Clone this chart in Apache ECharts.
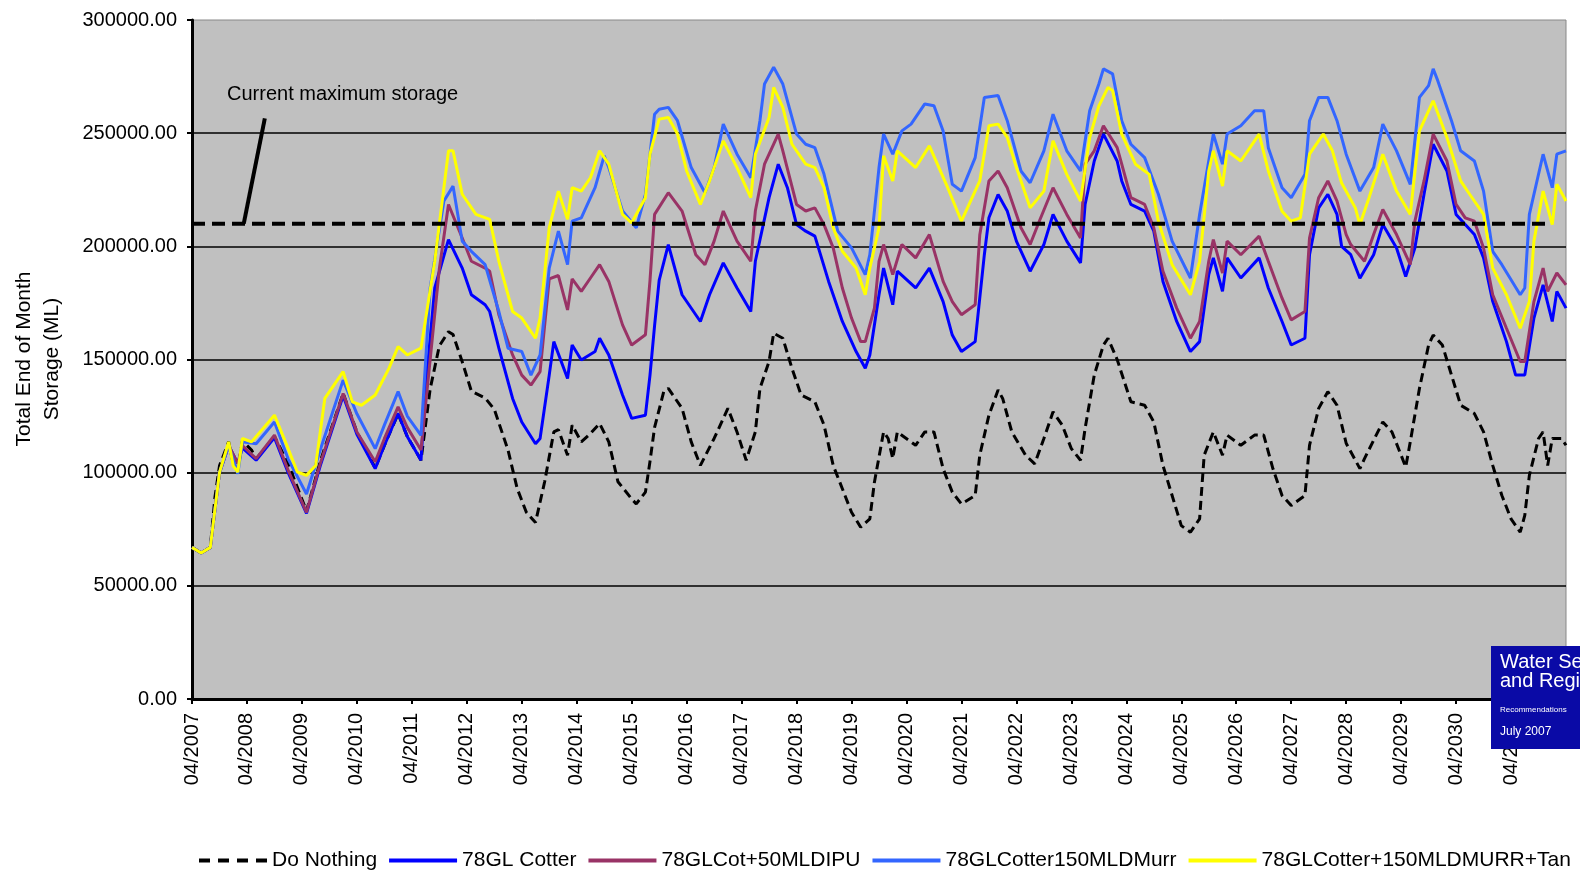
<!DOCTYPE html>
<html>
<head>
<meta charset="utf-8">
<script src="https://cdn.jsdelivr.net/npm/echarts/dist/echarts.min.js"></script>
<style>
  html, body { margin: 0; padding: 0; background: #ffffff; }
  #chart { width: 1580px; height: 872px; }
</style>
</head>
<body>
<div id="chart"></div>
<script>
// Month index 0 = 04/2007; values are total end-of-month storage in ML.
const startYear = 2007;
const lastMonth = 300;
const yTicks = [0, 50000, 100000, 150000, 200000, 250000, 300000];
const maxStorage = 210000;
const maxStorageEnd = 296;

const seriesNames = [
  'Do Nothing',
  '78GL Cotter',
  '78GLCot+50MLDIPU',
  '78GLCotter150MLDMurr',
  '78GLCotter+150MLDMURR+Tan'
];

const doNothing = [
  [0,67000],[2,64500],[4,67000],[5,89000],[6,103000],[8,113600],[9,104000],[10,101000],[11,114000],
  [13,110000],[14,106000],[18,116000],[21,104000],[25,83000],[28,105000],[33,135000],[36,118000],
  [40,102000],[42,112000],[45,126000],[47,116000],[50,105500],[52,137000],[54,156000],[56,162300],
  [57,161000],[59,149000],[61,136000],[64,133000],[66,128000],[69,110000],[71,93000],[73,82500],
  [75,78000],[77,96000],[79,118000],[80,119000],[82,107700],[83,121000],[85,113600],[87,117300],
  [89,121700],[91,113600],[93,96000],[96,88400],[97,86200],[99,91400],[100,105000],[101,120000],
  [103,135800],[104,137200],[107,128400],[109,113600],[111,103200],[114,115100],[117,128400],
  [119,118000],[121,105500],[123,118000],[124,137200],[126,149200],[127,161600],[129,159400],
  [131,146100],[133,134300],[136,131300],[138,121000],[140,103200],[142,92900],[144,82500],
  [146,75900],[148,79600],[149,95800],[151,118000],[152,115100],[153,106200],[154,118000],
  [158,112100],[160,118000],[162,118000],[164,101800],[166,91400],[168,86200],[171,89900],
  [172,107700],[174,125400],[176,136500],[177,132800],[179,118000],[182,107700],[184,103900],
  [186,115100],[188,126900],[190,121000],[192,110600],[194,105500],[195,119500],[197,143100],
  [199,156400],[200,159400],[202,150000],[205,131300],[208,129800],[210,122400],[212,103200],
  [214,89900],[216,76600],[218,73700],[220,79600],[221,107700],[223,118000],[225,107700],
  [226,116600],[229,112100],[232,116600],[234,116600],[236,101800],[238,89900],[240,85500],
  [243,89900],[244,112100],[246,128400],[248,135800],[250,129800],[252,113000],[255,101800],
  [256,106200],[260,122400],[262,118000],[264,107700],[265,102500],[266,113600],[268,137200],
  [270,156400],[271,160800],[273,156400],[275,143100],[277,129800],[280,126100],[282,118000],
  [284,103200],[286,89900],[288,79600],[290,73700],[291,81100],[292,98800],[294,115100],
  [295,118000],[296,103200],[297,115100],[299,115100],[300,112100]
];

const cotter78 = [
  [0,67000],[2,64500],[4,67000],[6,100000],[8,112000],[10,104000],[11,111000],[14,105500],
  [18,115500],[21,100000],[25,82000],[28,103000],[33,134000],[36,117000],[40,101800],[42,112000],
  [45,126200],[47,116000],[50,105500],[51,137200],[53,181600],[56,203000],[59,190400],[61,178600],
  [64,174200],[65,171200],[67,155000],[70,132800],[72,122400],[75,112800],[76,115100],[78,143100],
  [79,157900],[82,141600],[83,156400],[85,149800],[88,153500],[89,159400],[91,152000],[94,134300],
  [96,124000],[99,125400],[100,143100],[101,165000],[102,185000],[104,200800],[107,178600],
  [111,166800],[113,178600],[116,192700],[119,181600],[122,171200],[123,193400],[126,221500],
  [128,236300],[130,225900],[132,209600],[134,206700],[136,204500],[139,184500],[142,166800],
  [145,153500],[147,146100],[148,152000],[150,178600],[151,190400],[153,174200],[154,189000],
  [158,181600],[161,190400],[164,175600],[166,160800],[168,153500],[171,157900],[173,196300],
  [174,212600],[176,222900],[178,215600],[180,202300],[183,189000],[186,200800],[188,214100],
  [191,202300],[194,192700],[195,218500],[197,237700],[199,249600],[202,237700],[203,228900],
  [205,218500],[208,215600],[210,206700],[212,184500],[215,166800],[218,153500],[220,157900],
  [222,187500],[223,194900],[225,180100],[226,194900],[229,186000],[233,194900],[235,181600],
  [238,166800],[240,156400],[243,159400],[244,196300],[246,217000],[248,223000],[250,214100],
  [251,200000],[253,196300],[255,185900],[258,196300],[260,209600],[263,199300],[265,186700],
  [267,199300],[269,223000],[271,245100],[274,233300],[276,214100],[278,209600],[280,205200],
  [282,194900],[284,175700],[287,157900],[289,143100],[291,143100],[293,168300],[295,183000],
  [297,166800],[298,180100],[300,172700]
];

const cot50ipu = [
  [0,67000],[2,64500],[4,67000],[6,100000],[8,112000],[10,104000],[11,112000],[14,106200],
  [18,116600],[21,101000],[25,82500],[28,104000],[33,135000],[36,118000],[40,104800],[42,115000],
  [45,129100],[47,120000],[50,110000],[52,150000],[54,190000],[56,218500],[59,203700],[61,193400],
  [64,190400],[65,189000],[67,169800],[70,152000],[72,143100],[74,138700],[76,144600],[78,185600],
  [80,187100],[82,171900],[83,185600],[85,180100],[87,186000],[89,191900],[91,184500],[94,165300],
  [96,156400],[99,160900],[100,185000],[101,214100],[104,223700],[107,215600],[110,196300],
  [112,191900],[114,202300],[116,215600],[119,202300],[122,193400],[123,215600],[125,236300],
  [128,249600],[129,242200],[132,218500],[134,215600],[136,217000],[138,209600],[140,199300],
  [142,181600],[144,168300],[146,157900],[147,157900],[149,172700],[150,193400],[151,200800],
  [153,187500],[155,200800],[158,194900],[161,205200],[164,184500],[166,175600],[168,169800],
  [171,174200],[172,205000],[174,228900],[176,233300],[178,225900],[181,208200],[183,200800],
  [185,211100],[188,225900],[191,214100],[194,203700],[195,236300],[197,242200],[199,253300],
  [202,243600],[203,236300],[205,221500],[208,218500],[210,208200],[212,189000],[215,172700],
  [218,159400],[220,166800],[222,193400],[223,203000],[225,188200],[226,202300],[229,196300],
  [233,204500],[235,193400],[238,177100],[240,167500],[243,171200],[244,203700],[246,221500],
  [248,228900],[250,220000],[252,205200],[253,200800],[256,193400],[258,205200],[260,216300],
  [263,205200],[266,191900],[267,211100],[269,228900],[271,249600],[274,237700],[276,218500],
  [278,212600],[280,211100],[282,199300],[284,178600],[287,163800],[290,149100],[291,149100],
  [293,175600],[295,190400],[296,180100],[298,188200],[300,183000]
];

const cot150murr = [
  [0,67000],[2,64500],[4,67000],[6,100000],[8,112000],[10,99500],[11,113600],[14,112800],
  [18,122400],[21,106000],[25,90600],[28,110000],[33,140900],[36,126000],[40,110600],[42,121000],
  [45,135800],[47,125000],[50,116500],[52,181600],[55,220000],[57,226600],[59,202300],[61,197800],
  [64,191900],[67,171200],[69,155000],[72,153500],[74,143100],[76,152000],[78,190400],[80,206700],
  [82,191900],[83,211100],[85,212600],[88,225900],[90,240000],[91,234800],[94,215600],[97,208200],
  [99,223000],[101,258400],[102,260600],[104,261400],[106,255500],[109,234800],[112,223700],
  [114,234800],[116,254000],[119,240700],[122,230300],[124,255500],[125,271700],[127,279100],
  [129,271700],[132,249600],[134,245100],[136,243600],[138,231800],[141,206700],[144,199300],
  [147,187500],[148,196300],[150,234800],[151,249600],[153,240700],[155,251000],[157,254000],
  [160,262900],[162,262100],[164,251000],[166,227400],[168,224400],[171,239200],[173,265800],
  [176,266600],[178,255500],[181,233300],[183,228100],[186,242200],[188,258400],[191,242200],
  [194,233300],[196,259900],[198,271700],[199,278400],[201,276200],[203,255500],[205,245100],
  [208,239200],[211,223000],[214,202300],[218,186000],[220,214100],[223,249600],[225,236300],
  [226,249600],[229,253300],[232,259900],[234,259900],[235,243600],[238,225900],[240,221500],
  [243,231800],[244,255500],[246,265800],[248,265800],[250,255500],[252,240700],[255,224400],
  [258,234800],[260,254000],[263,242200],[266,227400],[268,265800],[270,271000],[271,278400],
  [272,273200],[275,255500],[277,242200],[280,237700],[282,224400],[284,197800],[286,191900],
  [290,178600],[291,181600],[292,214100],[295,240700],[297,225900],[298,240700],[300,242200]
];

const cot150murrTan = [
  [0,67000],[2,64500],[4,67000],[6,100000],[8,113600],[9,103000],[10,100300],[11,115100],
  [13,113600],[18,125400],[21,110600],[23,100300],[25,98800],[27,103200],[29,132800],[33,144600],
  [35,131300],[37,129800],[40,134300],[43,146100],[45,155700],[47,152000],[50,155000],[53,193400],
  [56,242200],[57,242200],[59,223000],[62,214100],[65,211900],[67,193400],[70,171200],[72,168300],
  [75,159400],[76,168300],[78,208200],[80,224400],[82,211900],[83,225900],[85,224400],[87,230300],
  [89,242200],[91,236300],[94,214100],[96,210400],[99,221500],[100,240700],[102,256200],
  [104,256900],[106,249600],[108,233300],[111,218500],[113,228900],[116,246600],[119,234800],
  [122,221500],[123,240700],[126,256900],[127,270200],[129,261400],[131,245100],[134,236300],
  [136,234800],[138,225900],[140,208200],[142,197800],[145,190400],[147,178600],[148,190400],
  [150,208200],[151,240000],[153,228900],[154,242200],[158,234800],[161,244400],[165,225900],
  [168,211100],[172,228900],[174,253300],[176,254000],[178,248100],[180,234800],[183,217000],
  [186,224400],[188,246600],[191,231800],[194,220000],[196,248100],[198,262000],[200,270200],
  [201,268800],[203,249600],[206,236300],[209,231800],[211,211100],[214,191900],[218,178600],
  [220,193400],[222,233300],[223,242200],[225,226600],[226,242200],[229,237700],[231,243600],
  [233,249600],[235,233300],[238,215500],[240,211100],[242,212600],[244,240700],[247,249600],
  [249,242200],[251,228000],[254,217000],[255,209600],[257,221500],[260,240700],[263,224400],
  [266,214100],[268,251000],[271,264300],[274,248100],[277,228900],[279,222900],[282,214100],
  [284,190400],[287,178600],[290,163800],[292,175600],[293,202300],[295,224400],[297,209600],
  [298,227400],[300,220000]
];

// Pointer from the caption down to the maximum-storage line
const pointerFrom = [11.3, maxStorage];
const pointerTo = [15.9, 256500];

const FONT = "'Liberation Sans', Arial, sans-serif";

// Legend keys: a dashed bar for the base case, plain bars for the others
const DASHED_KEY = 'path://M0 0h11v4h-11z M19 0h11v4h-11z M38 0h11v4h-11z M57 0h11v4h-11z';

const chart = echarts.init(document.getElementById('chart'), null, { renderer: 'canvas' });

function lineSeries(name, data, color, extra) {
  return Object.assign({
    name: name,
    type: 'line',
    data: data,
    symbol: 'none',
    showSymbol: false,
    silent: true,
    lineStyle: { color: color, width: 3 },
    itemStyle: { color: color }
  }, extra || {});
}

const option = {
  animation: false,
  backgroundColor: '#ffffff',
  textStyle: { fontFamily: FONT },
  grid: {
    left: 192, right: 14, top: 20, bottom: 173,
    show: true,
    backgroundColor: '#C0C0C0',
    borderColor: '#888888',
    borderWidth: 1
  },
  legend: {
    data: seriesNames.map(function (n, i) {
      return { name: n, icon: i === 0 ? DASHED_KEY : 'rect' };
    }),
    left: 194,
    top: 845,
    width: 1420,
    itemWidth: 68,
    itemHeight: 4,
    itemGap: 12,
    textStyle: { fontSize: 21, color: '#000', fontFamily: FONT }
  },
  xAxis: {
    type: 'value',
    min: 0,
    max: lastMonth,
    interval: 12,
    axisLine: { show: true, onZero: false, lineStyle: { color: '#000', width: 3 } },
    axisTick: { show: true, length: 5, lineStyle: { color: '#000', width: 2 } },
    splitLine: { show: false },
    axisLabel: {
      rotate: 90,
      margin: 14,
      fontSize: 20,
      fontFamily: FONT,
      color: '#000',
      showMaxLabel: false,
      formatter: function (v) {
        if (v % 12 !== 0) return '';
        return '04/' + (startYear + v / 12);
      }
    }
  },
  yAxis: {
    type: 'value',
    min: yTicks[0],
    max: yTicks[yTicks.length - 1],
    interval: yTicks[1] - yTicks[0],
    axisLine: { show: true, lineStyle: { color: '#000', width: 3 } },
    axisTick: { show: true, length: 5, lineStyle: { color: '#000', width: 2 } },
    splitLine: { show: true, showMaxLine: false, showMinLine: false, lineStyle: { color: '#000', width: 1.5 } },
    axisLabel: {
      margin: 15,
      fontSize: 20,
      fontFamily: FONT,
      color: '#000',
      formatter: function (v) { return v.toFixed(2); }
    }
  },
  series: [
    lineSeries(seriesNames[0], doNothing, '#000000', { lineStyle: { color: '#000000', width: 3, type: [9, 5] } }),
    lineSeries(seriesNames[1], cotter78, '#0000FF'),
    lineSeries(seriesNames[2], cot50ipu, '#993366'),
    lineSeries(seriesNames[3], cot150murr, '#3366FF'),
    lineSeries(seriesNames[4], cot150murrTan, '#FFFF00'),
    {
      name: 'Current maximum storage',
      type: 'line',
      data: [[0, maxStorage], [maxStorageEnd, maxStorage]],
      symbol: 'none',
      silent: true,
      lineStyle: { color: '#000', width: 4, type: [13, 7] },
      markLine: {
        silent: true,
        symbol: ['none', 'none'],
        label: { show: false },
        lineStyle: { color: '#000', width: 4, type: 'solid' },
        data: [[{ coord: pointerFrom }, { coord: pointerTo }]]
      }
    }
  ],
  graphic: [
    {
      type: 'text',
      x: 38, y: 359,
      rotation: Math.PI / 2,
      style: {
        text: 'Total End of Month\nStorage (ML)',
        font: '21px ' + FONT,
        fill: '#000',
        textAlign: 'center',
        textVerticalAlign: 'middle',
        align: 'center',
        verticalAlign: 'middle',
        lineHeight: 28
      }
    },
    {
      type: 'text',
      x: 227, y: 94,
      style: {
        text: 'Current maximum storage',
        font: '20px ' + FONT,
        fill: '#000',
        textAlign: 'left',
        textVerticalAlign: 'middle',
        align: 'left',
        verticalAlign: 'middle'
      }
    },
    { type: 'rect', zlevel: 5, shape: { x: 1491, y: 646, width: 120, height: 103 }, style: { fill: '#0a0aa6' } },
    { type: 'text', zlevel: 5, x: 1500, y: 672, style: { text: 'Water Security', font: '20px ' + FONT, fill: '#fff', textVerticalAlign: 'bottom', verticalAlign: 'bottom' } },
    { type: 'text', zlevel: 5, x: 1500, y: 691, style: { text: 'and Regional', font: '20px ' + FONT, fill: '#fff', textVerticalAlign: 'bottom', verticalAlign: 'bottom' } },
    { type: 'text', zlevel: 5, x: 1500, y: 714, style: { text: 'Recommendations', font: '8px ' + FONT, fill: '#fff', textVerticalAlign: 'bottom', verticalAlign: 'bottom' } },
    { type: 'text', zlevel: 5, x: 1500, y: 738, style: { text: 'July 2007', font: '12px ' + FONT, fill: '#fff', textVerticalAlign: 'bottom', verticalAlign: 'bottom' } }
  ]
};

chart.setOption(option);
</script>
</body>
</html>
